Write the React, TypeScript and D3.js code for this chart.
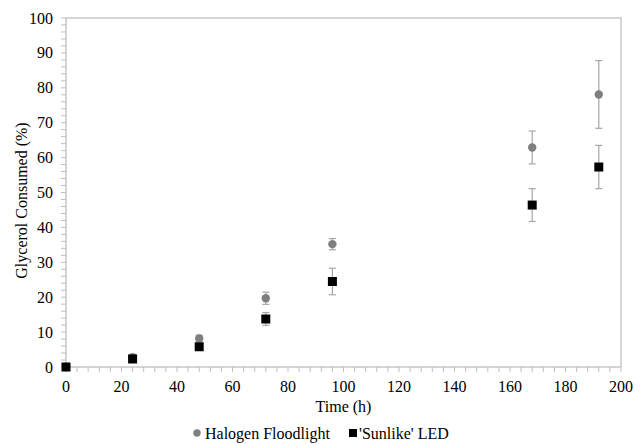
import * as d3 from "d3";
import { useEffect, useRef } from "react";

const times = [0, 24, 48, 72, 96, 168, 192];
const halogen = [0, 2.8, 8.2, 19.7, 35.2, 62.9, 78.1];
const halogenErr = [0, 0.8, 0.9, 1.75, 1.6, 4.7, 9.7];
const led = [0, 2.3, 5.8, 13.75, 24.5, 46.4, 57.3];
const ledErr = [0, 0.5, 0.6, 1.85, 3.8, 4.7, 6.2];

const xTicks = [0, 20, 40, 60, 80, 100, 120, 140, 160, 180, 200];
const yTicks = [0, 10, 20, 30, 40, 50, 60, 70, 80, 90, 100];

const FONT = "'Liberation Serif', 'DejaVu Serif', serif";
const AXIS = "#bfbfbf";

export default function App() {
  const svgRef = useRef<SVGSVGElement>(null);

  useEffect(() => {
    const width = 644, height = 444;
    const margin = { top: 18, right: 23, bottom: 77, left: 66 };
    const svg = d3.select(svgRef.current);
    svg.selectAll("*").remove();

    const x = d3.scaleLinear().domain([0, 200]).range([margin.left, width - margin.right]);
    const y = d3.scaleLinear().domain([0, 100]).range([height - margin.bottom, margin.top]);

    // box
    svg.append("rect")
      .attr("x", x(0)).attr("y", y(100))
      .attr("width", x(200) - x(0)).attr("height", y(0) - y(100))
      .attr("fill", "none").attr("stroke", AXIS).attr("stroke-width", 1.3);

    // minor ticks
    const xMinor = d3.range(0, 201, 4);
    svg.append("g").selectAll("line").data(xMinor).join("line")
      .attr("x1", d => x(d)).attr("x2", d => x(d))
      .attr("y1", y(0)).attr("y2", y(0) + 5)
      .attr("stroke", AXIS).attr("stroke-width", 1);
    const yMinor = d3.range(0, 101, 2);
    svg.append("g").selectAll("line").data(yMinor).join("line")
      .attr("x1", x(0) - 5).attr("x2", x(0))
      .attr("y1", d => y(d)).attr("y2", d => y(d))
      .attr("stroke", AXIS).attr("stroke-width", 1);

    // tick labels
    svg.append("g").selectAll("text").data(xTicks).join("text")
      .attr("x", d => x(d)).attr("y", y(0) + 25)
      .attr("text-anchor", "middle")
      .attr("font-size", 16).attr("fill", "#000")
      .text(d => d);
    svg.append("g").selectAll("text").data(yTicks).join("text")
      .attr("x", x(0) - 13).attr("y", d => y(d) + 5.5)
      .attr("text-anchor", "end")
      .attr("font-size", 16).attr("fill", "#000")
      .text(d => d);

    // axis titles
    svg.append("text")
      .attr("x", (x(0) + x(200)) / 2).attr("y", 412)
      .attr("text-anchor", "middle")
      .attr("font-size", 16)
      .text("Time (h)");
    svg.append("text")
      .attr("transform", `translate(27,${(y(0) + y(100)) / 2 + 8}) rotate(-90)`)
      .attr("text-anchor", "middle")
      .attr("font-size", 16)
      .text("Glycerol Consumed (%)");

    // error bars
    const drawErr = (vals: number[], errs: number[]) => {
      const g = svg.append("g").attr("stroke", "#a6a6a6").attr("stroke-width", 1.2);
      times.forEach((t, i) => {
        if (errs[i] <= 0) return;
        const cx = x(t);
        g.append("line").attr("x1", cx).attr("x2", cx)
          .attr("y1", y(vals[i] + errs[i])).attr("y2", y(vals[i] - errs[i]));
        [vals[i] + errs[i], vals[i] - errs[i]].forEach(v => {
          g.append("line").attr("x1", cx - 3.5).attr("x2", cx + 3.5)
            .attr("y1", y(v)).attr("y2", y(v));
        });
      });
    };
    drawErr(halogen, halogenErr);
    drawErr(led, ledErr);

    // halogen circles
    svg.append("g").selectAll("circle").data(times).join("circle")
      .attr("cx", d => x(d)).attr("cy", (_, i) => y(halogen[i]))
      .attr("r", 4.2).attr("fill", "#7f7f7f");

    // led squares
    const s = 9;
    svg.append("g").selectAll("rect").data(times).join("rect")
      .attr("x", d => x(d) - s / 2).attr("y", (_, i) => y(led[i]) - s / 2)
      .attr("width", s).attr("height", s).attr("fill", "#000");

    // legend
    const ly = 433;
    svg.append("circle").attr("cx", 197).attr("cy", ly).attr("r", 3.7).attr("fill", "#7f7f7f");
    svg.append("text").attr("x", 205).attr("y", ly + 5.5)
      .attr("font-size", 16).text("Halogen Floodlight");
    svg.append("rect").attr("x", 349).attr("y", ly - 4).attr("width", 8).attr("height", 8).attr("fill", "#000");
    svg.append("text").attr("x", 359).attr("y", ly + 5.5)
      .attr("font-size", 16).text("'Sunlike' LED");
  }, []);

  return (
    <svg ref={svgRef} width={644} height={444} fontFamily={FONT}
      style={{ position: "absolute", left: 0, top: 0, background: "#fff" }} />
  );
}
